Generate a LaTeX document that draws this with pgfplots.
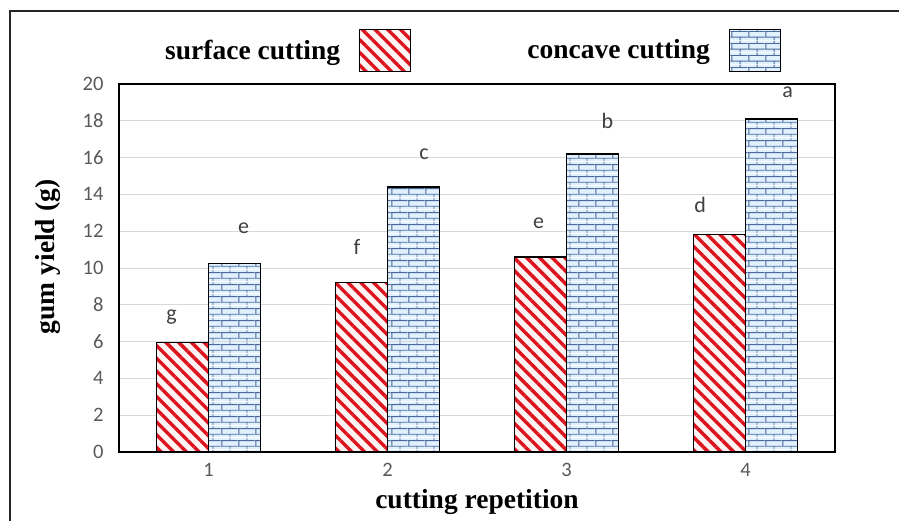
\documentclass[border=0pt]{standalone}
\usepackage{pgfplots}
\pgfplotsset{compat=1.18}
\usetikzlibrary{patterns,patterns.meta}
\usepackage{fontspec}
\setmainfont{Liberation Serif}
\newfontfamily\carlito{Carlito}
\definecolor{stripered}{RGB}{220,20,30}
\definecolor{stripebg}{RGB}{255,244,244}
\definecolor{brickfill}{RGB}{224,240,253}
\definecolor{brickline}{RGB}{75,105,155}
\definecolor{gridgray}{RGB}{217,217,217}
\definecolor{tickgray}{RGB}{89,89,89}
\definecolor{lettergray}{RGB}{64,64,64}
\newcommand\labfont{\fontsize{27.5}{31}\selectfont\bfseries}
\newcommand\tickfont{\carlito\fontsize{20.5}{24}\selectfont}
\newcommand\letterfont{\carlito\fontsize{22}{26}\selectfont}

\pgfdeclarepatterninherentlycolored{bricksx}{\pgfpointorigin}{\pgfpoint{17pt}{12pt}}{\pgfpoint{17pt}{12pt}}{%
 \pgfsetfillcolor{brickfill}%
 \pgfpathrectangle{\pgfpointorigin}{\pgfpoint{17pt}{12pt}}\pgfusepath{fill}%
 \pgfsetstrokecolor{brickline}\pgfsetlinewidth{1pt}%
 \pgfpathmoveto{\pgfpoint{0pt}{3pt}}\pgfpathlineto{\pgfpoint{17pt}{3pt}}%
 \pgfpathmoveto{\pgfpoint{0pt}{9pt}}\pgfpathlineto{\pgfpoint{17pt}{9pt}}%
 \pgfpathmoveto{\pgfpoint{1pt}{3pt}}\pgfpathlineto{\pgfpoint{1pt}{9pt}}%
 \pgfpathmoveto{\pgfpoint{9.5pt}{9pt}}\pgfpathlineto{\pgfpoint{9.5pt}{12pt}}%
 \pgfpathmoveto{\pgfpoint{9.5pt}{0pt}}\pgfpathlineto{\pgfpoint{9.5pt}{3pt}}%
 \pgfusepath{stroke}%
}

\pgfplotsset{
  swatch/.style={legend image code/.code={\draw[##1,draw=black,line width=1.2pt] (0pt,-21pt) rectangle (51pt,21pt);}},
}

\begin{document}
\begin{tikzpicture}
\begin{axis}[
  scale only axis, width=716pt, height=368pt,
  xmin=0.5, xmax=4.5, ymin=0, ymax=20,
  xtick={1,2,3,4}, ytick={0,2,...,20},
  major tick length=0pt,
  ymajorgrids, grid style={draw=gridgray, line width=0.9pt},
  axis line style={black, line width=1.3pt},
  /pgf/number format/assume math mode=true,
  tick label style={font=\tickfont, text=tickgray},
  yticklabel style={xshift=-12pt},
  xticklabel style={yshift=-8pt},
  xlabel={cutting repetition},
  ylabel={gum yield (g)},
  label style={font=\labfont},
  xlabel style={anchor=center, at={(axis description cs:0.5,-0.136)}},
  ylabel style={anchor=center, at={(axis description cs:-0.099,0.53)}},
  legend plot pos=right,
  legend columns=2,
  legend style={draw=none, fill=none, font=\labfont, inner sep=0pt,
    at={(axis description cs:0.0615,1.092)}, anchor=west,
    /tikz/every odd column/.append style={column sep=17pt},
    /tikz/every even column/.append style={column sep=114pt}},
]
\addplot[ybar, bar width=0.29, bar shift=-0.145, draw=black, line width=1.2pt,
  preaction={fill=stripebg},
  pattern={Lines[angle=-45,distance=9pt,line width=3.4pt]}, pattern color=stripered,
  swatch]
  coordinates {(1,5.95) (2,9.2) (3,10.6) (4,11.8)};
\addlegendentry{surface cutting}
\addplot[ybar, bar width=0.29, bar shift=0.145, draw=black, line width=1.2pt,
  pattern=bricksx, swatch]
  coordinates {(1,10.25) (2,14.4) (3,16.2) (4,18.1)};
\addlegendentry{concave cutting}
\addplot[draw=none, mark=none, forget plot, nodes near coords, point meta=explicit symbolic,
  every node near coord/.append style={font=\letterfont, text=lettergray, anchor=base, inner sep=0pt}]
  coordinates {(0.793,7.17)[g] (1.196,11.85)[e] (1.83,10.76)[f] (2.204,15.87)[c]
               (2.844,12.12)[e] (3.229,17.6)[b] (3.746,13.0)[d] (4.235,19.24)[a]};
\end{axis}
\draw[line width=1.6pt, black!85] (-109pt,-70pt) -- (-109pt,441pt) -- (782pt,441pt);
\pgfresetboundingbox
\path[use as bounding box] (-119pt,-68pt) rectangle (780pt,452pt);
\end{tikzpicture}
\end{document}
